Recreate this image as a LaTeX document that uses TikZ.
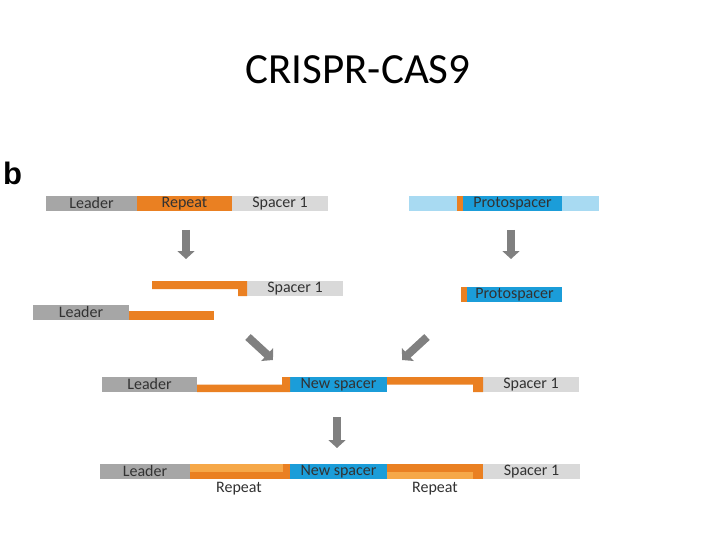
\documentclass[tikz,border=0pt]{standalone}
\usepackage{fontspec}
\setmainfont{Carlito}
\newfontfamily\panelfont{Liberation Sans}
\usetikzlibrary{arrows.meta,positioning}
\definecolor{leadergray}{RGB}{166,166,166}
\definecolor{spacergray}{RGB}{217,217,217}
\definecolor{repeatorange}{RGB}{234,128,34}
\definecolor{repeatlight}{RGB}{246,168,72}
\definecolor{protoblue}{RGB}{27,157,217}
\definecolor{protolight}{RGB}{168,218,242}
\definecolor{arrowgray}{RGB}{128,128,128}
\definecolor{labelgray}{RGB}{50,50,50}
\tikzset{
  seg/.style={rectangle, inner sep=0pt, outer sep=0pt, minimum height=15pt,
    anchor=north west, text=labelgray, font=\fontsize{16}{16}\selectfont},
  leaderseg/.style={seg, fill=leadergray},
  spacerseg/.style={seg, fill=spacergray},
  repeatseg/.style={seg, fill=repeatorange},
  protoseg/.style={seg, fill=protoblue},
  dnaseg/.style={seg, fill=protolight},
  pamseg/.style={seg, fill=repeatorange, minimum width=6pt},
  replabel/.style={text=labelgray, font=\fontsize{16}{16}\selectfont, inner sep=0pt},
  blockarrow/.style={draw=arrowgray, line width=8pt,
    -{Triangle[width=17pt,length=8pt]}}
}
\begin{document}
\begin{tikzpicture}[x=1pt,y=-1pt]
  \useasboundingbox[fill=white] (0,0) rectangle (720,540);

  % --- title and panel letter ---
  \node[font=\fontsize{43}{43}\selectfont] (title) at (358,70) {CRISPR-CAS9};
  \node[font=\panelfont\bfseries\fontsize{31}{31}\selectfont, anchor=north west, inner sep=0pt] (panel) at (3,162) {b};

  % --- row 1: CRISPR locus ---
  \node[leaderseg, minimum width=91pt] (lead1) at (46,196) {Leader};
  \node[repeatseg, minimum width=95pt, right=0pt of lead1] (rep1) {Repeat};
  \node[spacerseg, minimum width=96pt, right=0pt of rep1] (spa1) {Spacer 1};

  % --- row 1: foreign DNA ---
  \node[dnaseg, minimum width=190pt] (dna1) at (409,196) {};
  \node[pamseg] (pam1) at (457,196) {};
  \node[protoseg, minimum width=99pt, right=0pt of pam1] (proto1) {Protospacer};

  % --- row 2: opened repeat ---
  \node[spacerseg, minimum width=96pt] (spa2) at (247,281) {Spacer 1};
  \fill[repeatorange] (152,281) -- (spa2.north west) -- (spa2.south west)
    -- ++(-9,0) |- (152,289) -- cycle;
  \node[leaderseg, minimum width=96pt] (lead2) at (33,305) {Leader};
  \fill[repeatorange] (lead2.south east) rectangle (214,311);

  % --- row 2: processed protospacer ---
  \node[pamseg] (pam2) at (461,287) {};
  \node[protoseg, minimum width=95pt, right=0pt of pam2] (proto2) {Protospacer};

  % --- row 3: integration ---
  \node[leaderseg, minimum width=95pt] (lead3) at (102,377) {Leader};
  \node[protoseg, minimum width=97pt] (new3) at (290,377) {New spacer};
  \node[spacerseg, minimum width=96pt] (spa3) at (483,377) {Spacer 1};
  \fill[repeatorange] (lead3.south east) -- (new3.south west) -- (new3.north west)
    -- ++(-8,0) |- (lead3.east) -- cycle;
  \fill[repeatorange] (new3.north east) -- (spa3.north west) -- (spa3.south west)
    -- ++(-10,0) |- (new3.east) -- cycle;

  % --- row 4: repaired locus ---
  \node[leaderseg, minimum width=90pt] (lead4) at (100,464) {Leader};
  \node[repeatseg, minimum width=100pt, right=0pt of lead4] (rep4a) {};
  \node[protoseg, minimum width=97pt, right=0pt of rep4a] (new4) {New spacer};
  \node[repeatseg, minimum width=96pt, right=0pt of new4] (rep4b) {};
  \node[spacerseg, minimum width=97pt, right=0pt of rep4b] (spa4) {Spacer 1};
  \fill[repeatlight] (rep4a.north west) rectangle ([xshift=-7pt]rep4a.east);
  \fill[repeatlight] (rep4b.west) rectangle ([xshift=-10pt]rep4b.south east);
  \node[replabel] (replabA) at (239,489) {Repeat};
  \node[replabel] (replabB) at (435,489) {Repeat};

  % --- arrows ---
  \coordinate (a1s) at (186,230); \coordinate (a1e) at (186,259);
  \coordinate (a2s) at (511,230); \coordinate (a2e) at (511,259);
  \coordinate (a3s) at (248,337); \coordinate (a3e) at (273,360);
  \coordinate (a4s) at (427,337); \coordinate (a4e) at (402,360);
  \coordinate (a5s) at (337,417); \coordinate (a5e) at (337,448);
  \draw[blockarrow] (a1s) -- (a1e);
  \draw[blockarrow] (a2s) -- (a2e);
  \draw[blockarrow] (a3s) -- (a3e);
  \draw[blockarrow] (a4s) -- (a4e);
  \draw[blockarrow] (a5s) -- (a5e);

\end{tikzpicture}
\end{document}
